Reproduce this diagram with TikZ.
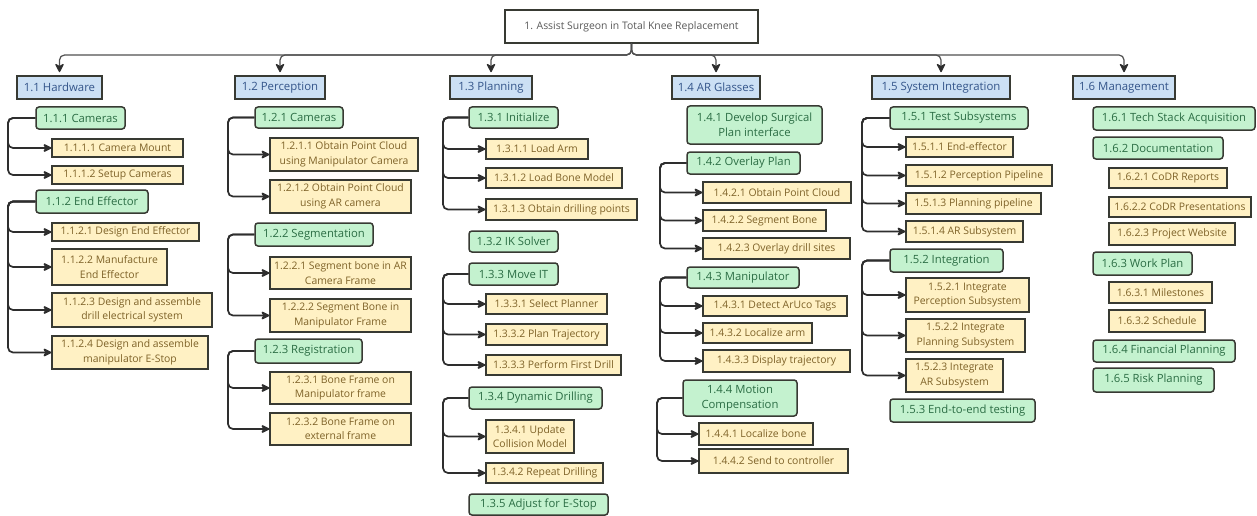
\documentclass[tikz,border=0pt]{standalone}
\usepackage{fontspec}
\setmainfont{Open Sans}
\usetikzlibrary{arrows.meta}
\definecolor{bfill}{HTML}{CCE0F4}
\definecolor{btext}{HTML}{34558A}
\definecolor{gfill}{HTML}{C4F2CF}
\definecolor{gtext}{HTML}{2B6D44}
\definecolor{yfill}{HTML}{FFF1C4}
\definecolor{ytext}{HTML}{7E6228}
\definecolor{bord}{HTML}{383A33}
\definecolor{linec}{HTML}{2E2E2E}
\definecolor{busc}{HTML}{505050}
\tikzset{
  box/.style={draw=bord, line width=1.5pt, inner sep=0pt, align=center},
  rootbox/.style={box, line width=1.3pt, fill=white, text=black!65, font=\fontsize{10.4}{12}\selectfont},
  blu/.style={box, fill=bfill, text=btext, font=\fontsize{11.4}{13}\selectfont},
  grn/.style={box, fill=gfill, text=gtext, rounded corners=3pt, font=\fontsize{11.3}{15}\selectfont},
  ylw/.style={box, fill=yfill, text=ytext, font=\fontsize{10.4}{14.5}\selectfont},
  tip/.style={-{Stealth[length=10pt,width=10pt,inset=3pt,round=false,color=linec]}},
  conn/.style={draw=linec, line width=1.7pt, rounded corners=5pt, tip},
  busline/.style={draw=busc, line width=1.2pt, rounded corners=5pt, tip, shorten >=3pt},
}
\newcommand\bx[7]{\node[#1,minimum width={(#5-#3)*1pt},minimum height={(#6-#4)*1pt}] (#2) at ({(#3+#5)/2},{(#4+#6)/2}) {#7};}
\newcommand\br[3]{\draw[conn] (#1.west) -- (#1.west -| #3) |- (#2.west);}
\begin{document}
\begin{tikzpicture}[x=1pt,y=-1pt]
\useasboundingbox[fill=white] (0,0) rectangle (1257,516);
% root and level 1
\bx{rootbox}{root}{505}{10}{758}{43}{1. Assist Surgeon in Total Knee Replacement}
\bx{blu}{h1}{17}{76}{102}{99}{1.1 Hardware}
\bx{blu}{h2}{235}{76}{325}{99}{1.2 Perception}
\bx{blu}{h3}{450}{76}{532}{99}{1.3 Planning}
\bx{blu}{h4}{672}{76}{760}{99}{1.4 AR Glasses}
\bx{blu}{h5}{872}{76}{1010}{99}{1.5 System Integration}
\bx{blu}{h6}{1073}{76}{1175}{99}{1.6 Management}
\coordinate (bus) at (0,55);
\foreach \h in {h1,h2,h3,h4,h5,h6}{\draw[busline] (root.south) -- (root.south |- bus) -| (\h.north);}
% column 1
\coordinate (ta) at (8,0);
\bx{grn}{a1}{36}{107}{125}{129}{1.1.1 Cameras}
\bx{ylw}{a11}{52}{139}{183}{157}{1.1.1.1 Camera Mount}
\bx{ylw}{a12}{52}{166}{183}{184}{1.1.1.2 Setup Cameras}
\bx{grn}{a2}{36}{190}{148}{213}{1.1.2 End Effector}
\bx{ylw}{a21}{52}{223}{199}{241}{1.1.2.1 Design End Effector}
\bx{ylw}{a22}{52}{249}{167}{285}{1.1.2.2 Manufacture\\End Effector}
\bx{ylw}{a23}{52}{293}{212}{327}{1.1.2.3 Design and assemble\\drill electrical system}
\bx{ylw}{a24}{52}{336}{208}{369}{1.1.2.4 Design and assemble\\manipulator E-Stop}
\br{a1}{a11}{ta}\br{a1}{a12}{ta}
\br{a2}{a21}{ta}\br{a2}{a22}{ta}\br{a2}{a23}{ta}\br{a2}{a24}{ta}
% column 2
\coordinate (tb) at (228,0);
\bx{grn}{b1}{255}{107}{343}{128}{1.2.1 Cameras}
\bx{ylw}{b11}{270}{138}{418}{171}{1.2.1.1 Obtain Point Cloud\\using Manipulator Camera}
\bx{ylw}{b12}{270}{180}{411}{213}{1.2.1.2 Obtain Point Cloud\\using AR camera}
\bx{grn}{b2}{255}{223}{373}{246}{1.2.2 Segmentation}
\bx{ylw}{b21}{270}{257}{411}{289}{1.2.2.1 Segment bone in AR\\Camera Frame}
\bx{ylw}{b22}{270}{299}{411}{332}{1.2.2.2 Segment Bone in\\Manipulator Frame}
\bx{grn}{b3}{255}{339}{362}{363}{1.2.3 Registration}
\bx{ylw}{b31}{270}{372}{411}{404}{1.2.3.1 Bone Frame on\\Manipulator frame}
\bx{ylw}{b32}{270}{413}{411}{445}{1.2.3.2 Bone Frame on\\external frame}
\br{b1}{b11}{tb}\br{b1}{b12}{tb}
\br{b2}{b21}{tb}\br{b2}{b22}{tb}
\br{b3}{b31}{tb}\br{b3}{b32}{tb}
% column 3
\coordinate (tc) at (443,0);
\bx{grn}{c1}{469}{107}{558}{128}{1.3.1 Initialize}
\bx{ylw}{c11}{486}{139}{588}{159}{1.3.1.1 Load Arm}
\bx{ylw}{c12}{486}{168}{622}{188}{1.3.1.2 Load Bone Model}
\bx{ylw}{c13}{486}{199}{637}{220}{1.3.1.3 Obtain drilling points}
\bx{grn}{c2}{469}{231}{558}{252}{1.3.2 IK Solver}
\bx{grn}{c3}{469}{263}{558}{285}{1.3.3 Move IT}
\bx{ylw}{c31}{486}{294}{607}{314}{1.3.3.1 Select Planner}
\bx{ylw}{c32}{486}{324}{607}{345}{1.3.3.2 Plan Trajectory}
\bx{ylw}{c33}{486}{355}{621}{375}{1.3.3.3 Perform First Drill}
\bx{grn}{c4}{469}{387}{602}{409}{1.3.4 Dynamic Drilling}
\bx{ylw}{c41}{486}{420}{574}{453}{1.3.4.1 Update\\Collision Model}
\bx{ylw}{c42}{486}{463}{603}{483}{1.3.4.2 Repeat Drilling}
\bx{grn}{c5}{469}{494}{608}{515}{1.3.5 Adjust for E-Stop}
\br{c1}{c11}{tc}\br{c1}{c12}{tc}\br{c1}{c13}{tc}
\br{c3}{c31}{tc}\br{c3}{c32}{tc}\br{c3}{c33}{tc}
\br{c4}{c41}{tc}\br{c4}{c42}{tc}
% column 4
\coordinate (td) at (660,0);
\coordinate (te) at (657,0);
\bx{grn}{d1}{687}{106}{822}{144}{1.4.1 Develop Surgical\\Plan interface}
\bx{grn}{d2}{687}{152}{800}{174}{1.4.2 Overlay Plan}
\bx{ylw}{d21}{703}{182}{851}{203}{1.4.2.1 Obtain Point Cloud}
\bx{ylw}{d22}{703}{210}{826}{231}{1.4.2.2 Segment Bone}
\bx{ylw}{d23}{703}{238}{850}{259}{1.4.2.3 Overlay drill sites}
\bx{grn}{d3}{687}{267}{799}{288}{1.4.3 Manipulator}
\bx{ylw}{d31}{703}{296}{847}{316}{1.4.3.1 Detect ArUco Tags}
\bx{ylw}{d32}{703}{323}{812}{343}{1.4.3.2 Localize arm}
\bx{ylw}{d33}{703}{350}{850}{372}{1.4.3.3 Display trajectory}
\bx{grn}{d4}{683}{380}{797}{416}{1.4.4 Motion\\Compensation}
\bx{ylw}{d41}{699}{423}{813}{445}{1.4.4.1 Localize bone}
\bx{ylw}{d42}{699}{449}{848}{473}{1.4.4.2 Send to controller}
\br{d2}{d21}{td}\br{d2}{d22}{td}\br{d2}{d23}{td}
\br{d3}{d31}{td}\br{d3}{d32}{td}\br{d3}{d33}{td}
\br{d4}{d41}{te}\br{d4}{d42}{te}
% column 5
\coordinate (tf) at (862,0);
\bx{grn}{e1}{890}{107}{1028}{129}{1.5.1 Test Subsystems}
\bx{ylw}{e11}{906}{137}{1013}{157}{1.5.1.1 End-effector}
\bx{ylw}{e12}{906}{165}{1052}{186}{1.5.1.2 Perception Pipeline}
\bx{ylw}{e13}{906}{193}{1041}{214}{1.5.1.3 Planning pipeline}
\bx{ylw}{e14}{906}{221}{1023}{242}{1.5.1.4 AR Subsystem}
\bx{grn}{e2}{890}{249}{1003}{272}{1.5.2 Integration}
\bx{ylw}{e21}{906}{278}{1029}{312}{1.5.2.1 Integrate\\Perception Subsystem}
\bx{ylw}{e22}{906}{319}{1025}{352}{1.5.2.2 Integrate\\Planning Subsystem}
\bx{ylw}{e23}{906}{359}{1003}{392}{1.5.2.3 Integrate\\AR Subsystem}
\bx{grn}{e3}{890}{399}{1035}{422}{1.5.3 End-to-end testing}
\br{e1}{e11}{tf}\br{e1}{e12}{tf}\br{e1}{e13}{tf}\br{e1}{e14}{tf}
\br{e2}{e21}{tf}\br{e2}{e22}{tf}\br{e2}{e23}{tf}
% column 6
\bx{grn}{f1}{1093}{107}{1255}{130}{1.6.1 Tech Stack Acquisition}
\bx{grn}{f2}{1093}{137}{1223}{159}{1.6.2 Documentation}
\bx{ylw}{f21}{1109}{168}{1227}{188}{1.6.2.1 CoDR Reports}
\bx{ylw}{f22}{1109}{197}{1251}{217}{1.6.2.2 CoDR Presentations}
\bx{ylw}{f23}{1109}{223}{1235}{245}{1.6.2.3 Project Website}
\bx{grn}{f3}{1093}{252}{1192}{275}{1.6.3 Work Plan}
\bx{ylw}{f31}{1109}{282}{1212}{303}{1.6.3.1 Milestones}
\bx{ylw}{f32}{1109}{310}{1205}{332}{1.6.3.2 Schedule}
\bx{grn}{f4}{1093}{340}{1235}{362}{1.6.4 Financial Planning}
\bx{grn}{f5}{1093}{368}{1214}{392}{1.6.5 Risk Planning}
\end{tikzpicture}
\end{document}
